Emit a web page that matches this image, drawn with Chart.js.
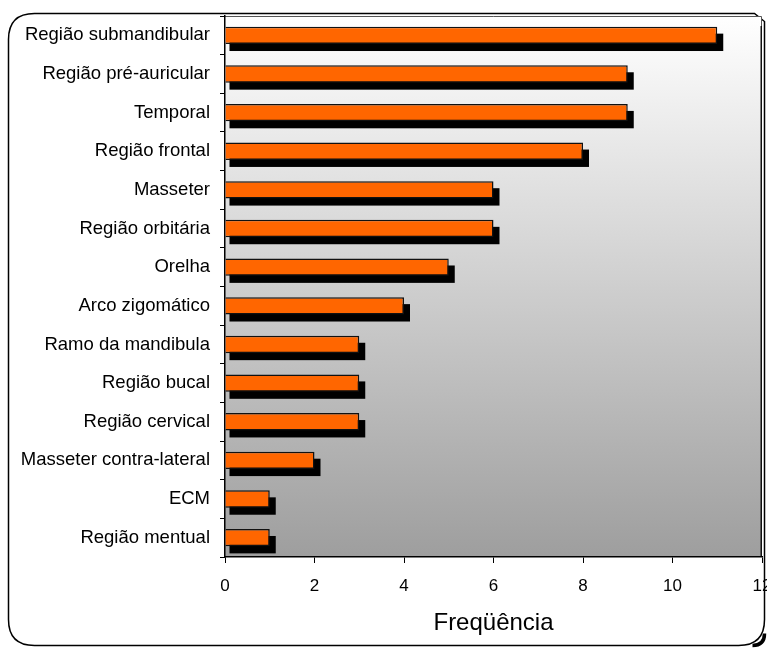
<!DOCTYPE html>
<html>
<head>
<meta charset="utf-8">
<script src="https://cdn.jsdelivr.net/npm/chart.js@4/dist/chart.umd.min.js"></script>
<style>
  html, body { margin: 0; padding: 0; background: #fff; }
  #wrap { width: 767px; height: 648px; position: relative; }
</style>
</head>
<body>
<div id="wrap"><canvas id="c" width="767" height="648"></canvas></div>
<script>
// Localizações anatômicas e frequência de cada uma
const regioes = [
  'Região submandibular',
  'Região pré-auricular',
  'Temporal',
  'Região frontal',
  'Masseter',
  'Região orbitária',
  'Orelha',
  'Arco zigomático',
  'Ramo da mandibula',
  'Região bucal',
  'Região cervical',
  'Masseter contra-lateral',
  'ECM',
  'Região mentual'
];
const frequencias = [11, 9, 9, 8, 6, 6, 5, 4, 3, 3, 3, 2, 1, 1];
const eixoMin = 0;
const eixoMax = 12;
const eixoPasso = 2;
const tituloEixo = 'Freqüência';

const FONT = "'Liberation Sans', Arial, sans-serif";

// Moldura arredondada, fundo em degradê da área de plotagem e sombra das barras
const moldura = {
  id: 'moldura',
  beforeDraw(chart) {
    const ctx = chart.ctx;
    const a = chart.chartArea;
    ctx.save();
    const x0 = 8.5, y0 = 13.5, x1 = 764.5, y1 = 645.5, r = 26;
    ctx.beginPath();
    ctx.moveTo(x0 + r, y0);
    ctx.lineTo(x1 - 10, y0);
    ctx.lineTo(x1, y0 + 8);
    ctx.lineTo(x1, y1 - r);
    ctx.quadraticCurveTo(x1, y1, x1 - r, y1);
    ctx.lineTo(x0 + r, y1);
    ctx.quadraticCurveTo(x0, y1, x0, y1 - r);
    ctx.lineTo(x0, y0 + r);
    ctx.quadraticCurveTo(x0, y0, x0 + r, y0);
    ctx.closePath();
    ctx.lineWidth = 1.5;
    ctx.strokeStyle = '#000';
    ctx.stroke();
    // heavier bottom-right corner of the frame
    ctx.beginPath();
    ctx.moveTo(x1, y1 - 12);
    ctx.quadraticCurveTo(x1, y1, x1 - 12, y1);
    ctx.lineWidth = 3.5;
    ctx.stroke();
    // vertical gradient inside the plot area
    const g = ctx.createLinearGradient(0, a.top, 0, a.bottom);
    g.addColorStop(0, '#ffffff');
    g.addColorStop(1, '#9e9e9e');
    ctx.fillStyle = g;
    ctx.fillRect(a.left, a.top, a.right - a.left, a.bottom - a.top);
    ctx.strokeStyle = '#555';
    ctx.lineWidth = 1;
    ctx.beginPath();
    ctx.moveTo(a.left, a.top + 0.5);
    ctx.lineTo(a.right - 0.5, a.top + 0.5);
    ctx.lineTo(a.right - 0.5, a.bottom);
    ctx.stroke();
    ctx.strokeStyle = '#111';
    ctx.lineWidth = 1.5;
    ctx.beginPath();
    ctx.moveTo(a.right - 0.75, a.top + 10);
    ctx.lineTo(a.right - 0.75, a.bottom);
    ctx.stroke();
    ctx.restore();
  },
  beforeDatasetsDraw(chart) {
    // black drop shadow under each bar
    const ctx = chart.ctx;
    const meta = chart.getDatasetMeta(0);
    ctx.save();
    ctx.fillStyle = '#000';
    meta.data.forEach(bar => {
      const p = bar.getProps(['x', 'y', 'base', 'height'], true);
      ctx.fillRect(p.base + 4, p.y - p.height / 2 + 7, p.x - p.base + 2, p.height);
    });
    ctx.restore();
  }
};

new Chart(document.getElementById('c'), {
  type: 'bar',
  data: {
    labels: regioes,
    datasets: [{
      data: frequencias,
      backgroundColor: '#ff6600',
      borderColor: '#111',
      borderWidth: 1.5,
      categoryPercentage: 1,
      barPercentage: 0.45
    }]
  },
  options: {
    indexAxis: 'y',
    responsive: false,
    animation: false,
    devicePixelRatio: 1,
    layout: { padding: { top: 16, right: 5, left: 0, bottom: 0 } },
    plugins: { legend: { display: false }, tooltip: { enabled: false } },
    scales: {
      x: {
        min: eixoMin,
        max: eixoMax,
        ticks: {
          stepSize: eixoPasso,
          color: '#000',
          font: { family: FONT, size: 17 },
          padding: 13
        },
        grid: { drawOnChartArea: false, tickLength: 6, color: '#000', tickColor: '#000' },
        border: { color: '#000', width: 1.5 },
        title: {
          display: true,
          text: tituloEixo,
          color: '#000',
          font: { family: FONT, size: 24 },
          padding: { top: 8, bottom: 10 }
        },
        afterFit(s) { s.height = 91; s.paddingLeft = 0; s.paddingRight = 0; }
      },
      y: {
        ticks: {
          color: '#000',
          font: { family: FONT, size: 18.5 },
          padding: 10
        },
        grid: { drawOnChartArea: false, offset: true, tickLength: 5, color: '#000', tickColor: '#000' },
        border: { color: '#000', width: 1.5 },
        afterFit(s) { s.width = 225; s.paddingTop = 0; s.paddingBottom = 0; }
      }
    }
  },
  plugins: [moldura]
});
</script>
</body>
</html>
